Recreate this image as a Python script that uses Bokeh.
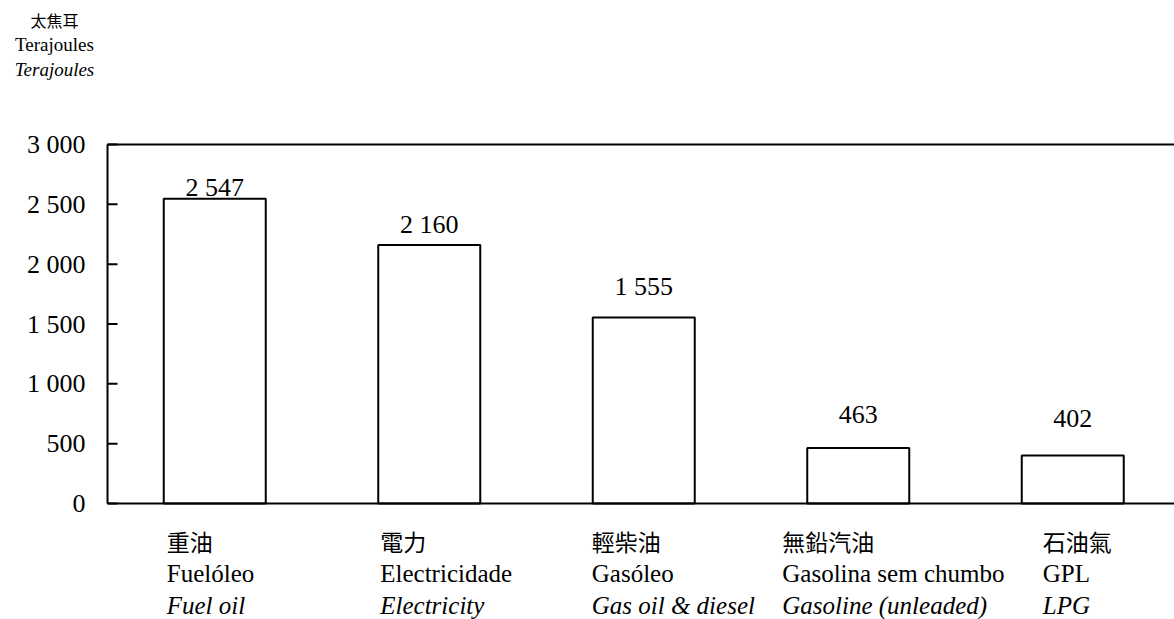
from bokeh.plotting import figure
from bokeh.models import Range1d, Label
from bokeh.embed import file_html
from bokeh.resources import INLINE

# ---- data ----
cat_zh = ["重油", "電力", "輕柴油", "無鉛汽油", "石油氣"]
cat_pt = ["Fuelóleo", "Electricidade", "Gasóleo", "Gasolina sem chumbo", "GPL"]
cat_en = ["Fuel oil", "Electricity", "Gas oil & diesel", "Gasoline (unleaded)", "LPG"]
values = [2547, 2160, 1555, 463, 402]
value_labels = ["2 547", "2 160", "1 555", "463", "402"]
y_ticks = [0, 500, 1000, 1500, 2000, 2500, 3000]
y_tick_labels = ["0", "500", "1 000", "1 500", "2 000", "2 500", "3 000"]
unit_lines = ["太焦耳", "Terajoules", "Terajoules"]
y_max = 3000

# ---- layout / styling (pixels) ----
W, H = 1174, 619
FRAME_LEFT, FRAME_TOP, FRAME_BOTTOM = 107, 144, 503
CAT_PX = 214.5                       # pixels per category
label_dx = [-48, -49, -52, -76, -30]  # left edge of category label vs bar centre
value_gap = [11, 21, 31, 34, 37]      # label centre above bar top
SERIF = "Liberation Serif"
CJK = "Noto Sans CJK TC"

ky = (FRAME_BOTTOM - FRAME_TOP) / y_max  # px per unit
x_start = -FRAME_LEFT / CAT_PX
x_end = (W - FRAME_LEFT) / CAT_PX
y_start = -(H - FRAME_BOTTOM) / ky
y_end = FRAME_BOTTOM / ky


def px_x(px):
    return (px - FRAME_LEFT) / CAT_PX


def px_y(py):
    return (FRAME_BOTTOM - py) / ky


p = figure(width=W, height=H, output_backend="svg", toolbar_location=None,
           x_range=Range1d(x_start, x_end), y_range=Range1d(y_start, y_end),
           x_axis_location=None, y_axis_location=None,
           min_border=0, min_border_left=0, min_border_right=0,
           min_border_top=0, min_border_bottom=0)
p.outline_line_color = None
p.grid.visible = False
p.background_fill_color = "white"
p.border_fill_color = "white"

xc = [i + 0.5 for i in range(len(values))]
p.vbar(x=xc, top=values, bottom=0, width=102 / CAT_PX, fill_color="white",
       line_color="black", line_width=2)

# axes lines: left axis, baseline, top border
p.segment(x0=[0, 0, 0], y0=[0, 0, y_max], x1=[0, x_end, x_end], y1=[y_max, 0, y_max],
          line_color="black", line_width=2)
# inward ticks
p.ray(x=[0] * len(y_ticks), y=y_ticks, length=10, length_units="screen", angle=0,
      line_color="black", line_width=2)

# y tick labels
for t, l in zip(y_ticks, y_tick_labels):
    p.add_layout(Label(x=0, y=t, text=l, x_offset=-22, text_align="right",
                       text_baseline="middle", text_font=SERIF, text_font_size="26px",
                       text_color="black"))

# value labels
for x, v, t, g in zip(xc, values, value_labels, value_gap):
    p.add_layout(Label(x=x, y=v, text=t, text_align="center", text_baseline="middle",
                       y_offset=g, text_font=SERIF, text_font_size="26px",
                       text_color="black"))

# category labels
for x, zh, pt, en, dx in zip(xc, cat_zh, cat_pt, cat_en, label_dx):
    p.add_layout(Label(x=x, y=0, text=zh, x_offset=dx, y_offset=-37, text_align="left",
                       text_baseline="middle", text_font=CJK, text_font_size="23px",
                       text_color="black"))
    p.add_layout(Label(x=x, y=0, text=pt, x_offset=dx, y_offset=-70, text_align="left",
                       text_baseline="middle", text_font=SERIF, text_font_size="25px",
                       text_color="black"))
    p.add_layout(Label(x=x, y=0, text=en, x_offset=dx, y_offset=-102, text_align="left",
                       text_baseline="middle", text_font=SERIF, text_font_size="25px",
                       text_font_style="italic", text_color="black"))

# unit text (top-left)
unit_py = [19, 44, 69]
unit_fonts = [(CJK, "16px", "normal"), (SERIF, "19px", "normal"), (SERIF, "19px", "italic")]
for t, py, (f, s, st) in zip(unit_lines, unit_py, unit_fonts):
    p.add_layout(Label(x=px_x(54), y=px_y(py), text=t, text_align="center",
                       text_baseline="middle", text_font=f, text_font_size=s,
                       text_font_style=st, text_color="black"))

open("out.html", "w").write(file_html(p, INLINE))
